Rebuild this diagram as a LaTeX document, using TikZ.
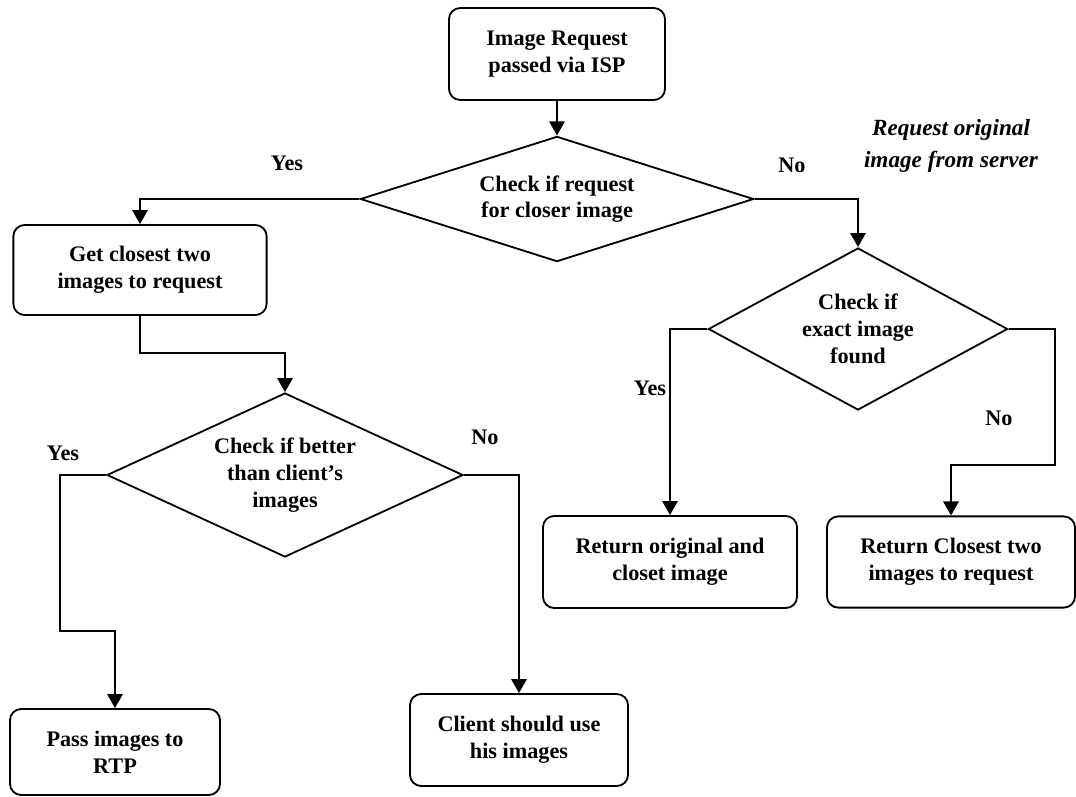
\documentclass[tikz,border=0pt]{standalone}
\usepackage{fontspec}
\setmainfont{Liberation Serif}
\usetikzlibrary{arrows.meta, shapes.geometric}

\begin{document}
\begin{tikzpicture}[x=0.025cm, y=-0.025cm,
  font=\fontsize{15.8}{19}\selectfont\bfseries,
  line width=1.3pt,
  procbox/.style={draw, rounded corners=8pt, align=center, inner sep=0pt},
  check/.style={draw, diamond, align=center, inner sep=0pt},
  flow/.style={-{Triangle[length=10pt, width=11pt]}},
  tag/.style={inner sep=0pt}]
  \useasboundingbox (0,0) rectangle (1076,796);

  \node[procbox, minimum width=5.4cm, minimum height=2.3cm] (req) at (557,54)
    {Image Request\\passed via ISP};
  \node[check, aspect=3.14, minimum width=9.83cm, minimum height=3.13cm] (d1) at (557,199)
    {Check if request\\for closer image};
  \node[procbox, minimum width=6.33cm, minimum height=2.25cm] (closest) at (140,270)
    {Get closest two\\images to request};
  \node[check, aspect=2.17, minimum width=8.9cm, minimum height=4.1cm] (d2) at (285,475)
    {Check if better\\than client’s\\images};
  \node[procbox, minimum width=5.25cm, minimum height=2.15cm] (pass) at (115,752)
    {Pass images to\\RTP};
  \node[procbox, minimum width=5.45cm, minimum height=2.3cm] (client) at (519,740)
    {Client should use\\his images};
  \node[check, aspect=1.85, minimum width=7.48cm, minimum height=4.05cm] (d3) at (858,329)
    {Check if\\exact image\\found};
  \node[procbox, minimum width=6.35cm, minimum height=2.3cm] (retorig) at (670,562)
    {Return original and\\closet image};
  \node[procbox, minimum width=6.2cm, minimum height=2.28cm] (retclose) at (951,562)
    {Return Closest two\\images to request};

  \coordinate (bendp) at (60,631);
  \coordinate (bendr) at (1055,465);

  \draw[flow] (req.south) -- (d1.north);
  \draw[flow] (d1.west) -| (closest.north);
  \draw[flow] (closest.south) -- ++(0,37) -| (d2.north);
  \draw[flow] (d2.west) -| (bendp) -| (pass.north);
  \draw[flow] (d2.east) -| (client.north);
  \draw[flow] (d1.east) -| (d3.north);
  \draw[flow] (d3.west) -| (retorig.north);
  \draw[flow] (d3.east) -| (bendr) -| (retclose.north);

  \node[tag] (yes1) at (287,163) {Yes};
  \node[tag] (no1) at (792,165) {No};
  \node[tag, align=center, font=\fontsize{16.5}{23}\selectfont\bfseries\itshape]
    (fetch) at (951,146) {Request original\\image from server};
  \node[tag] (yes2) at (63,453) {Yes};
  \node[tag] (no2) at (485,437) {No};
  \node[tag] (yes3) at (650,388) {Yes};
  \node[tag] (no3) at (999,418) {No};
\end{tikzpicture}
\end{document}
